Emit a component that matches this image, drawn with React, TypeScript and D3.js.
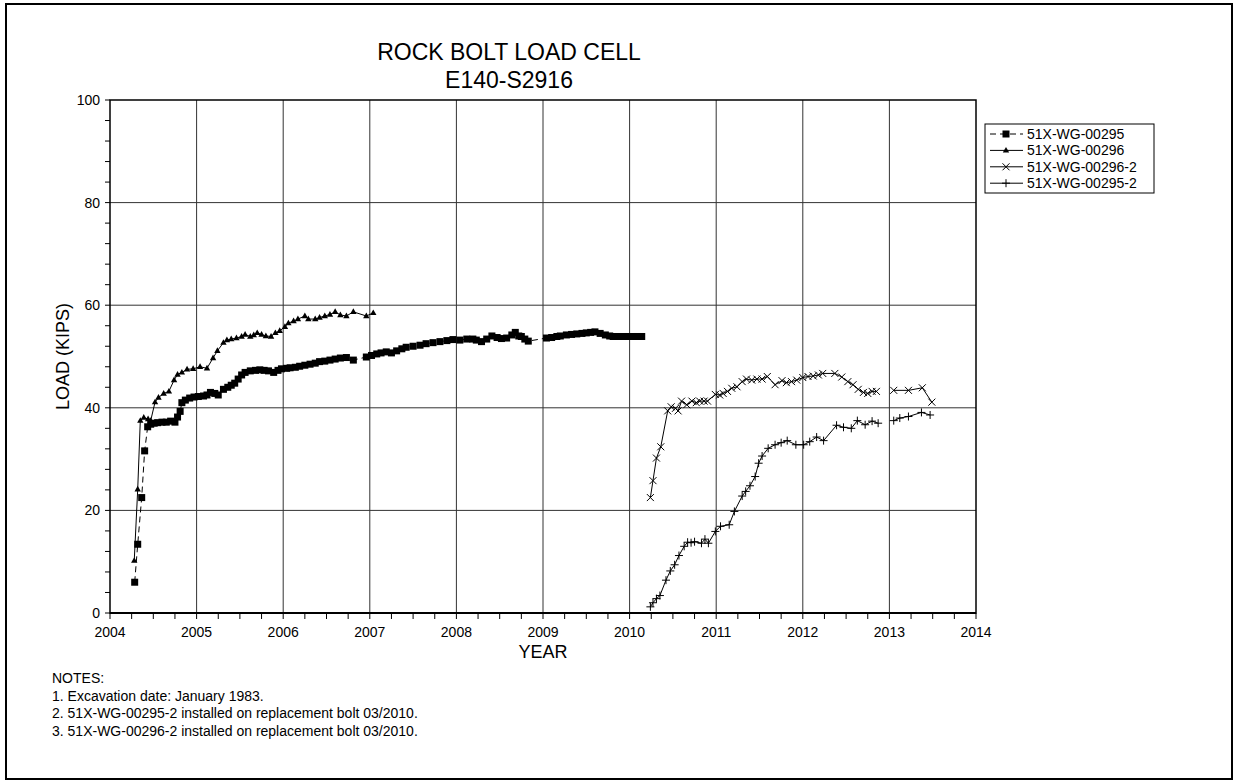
import * as d3 from 'd3';

type Pt = [number, number] | null;

// 51X-WG-00295 (dashed, squares)
const s295: Pt[] = [
  [2004.285, 6.0], [2004.32, 13.4], [2004.366, 22.5], [2004.4, 31.6], [2004.435, 36.3],
  [2004.47, 36.8], [2004.51, 37.0], [2004.55, 37.1], [2004.6, 37.2], [2004.65, 37.2],
  [2004.7, 37.4], [2004.75, 37.2], [2004.78, 38.2], [2004.81, 39.3], [2004.83, 41.0],
  [2004.87, 41.5], [2004.92, 41.9], [2004.97, 42.1], [2005.02, 42.2], [2005.08, 42.3],
  [2005.12, 42.5], [2005.16, 43.0], [2005.21, 42.8], [2005.25, 42.5], [2005.31, 43.6],
  [2005.36, 44.0], [2005.4, 44.4], [2005.44, 44.8], [2005.48, 45.6], [2005.52, 46.4],
  [2005.56, 46.9], [2005.62, 47.2], [2005.68, 47.3], [2005.73, 47.4], [2005.78, 47.3],
  [2005.83, 47.2], [2005.89, 46.9], [2005.94, 47.3], [2005.98, 47.6], [2006.04, 47.7],
  [2006.08, 47.8], [2006.14, 47.9], [2006.19, 48.1], [2006.25, 48.3], [2006.31, 48.5],
  [2006.37, 48.7], [2006.42, 49.0], [2006.48, 49.1], [2006.54, 49.3], [2006.6, 49.5],
  [2006.66, 49.7], [2006.73, 49.8], [2006.81, 49.3], [2006.96, 49.9], [2007.02, 50.2],
  [2007.08, 50.5], [2007.13, 50.7], [2007.19, 50.9], [2007.25, 50.7], [2007.31, 51.1],
  [2007.37, 51.5], [2007.42, 51.8], [2007.5, 52.0], [2007.58, 52.2], [2007.65, 52.5],
  [2007.73, 52.7], [2007.81, 52.9], [2007.89, 53.1], [2007.96, 53.3], [2008.04, 53.2],
  [2008.12, 53.4], [2008.19, 53.4], [2008.23, 53.2], [2008.29, 52.9], [2008.35, 53.4],
  [2008.41, 54.0], [2008.47, 53.7], [2008.52, 53.5], [2008.58, 53.6], [2008.64, 54.2],
  [2008.68, 54.7], [2008.72, 54.0], [2008.75, 53.9], [2008.79, 53.4], [2008.83, 53.0],
  [2009.04, 53.6], [2009.1, 53.7], [2009.16, 53.9], [2009.2, 54.0], [2009.27, 54.2],
  [2009.33, 54.3], [2009.39, 54.4], [2009.45, 54.5], [2009.5, 54.6], [2009.55, 54.7],
  [2009.6, 54.8], [2009.66, 54.5], [2009.72, 54.2], [2009.77, 54.0], [2009.81, 53.9],
  [2009.87, 53.9], [2009.93, 53.9], [2009.98, 53.9], [2010.04, 53.9], [2010.09, 53.9],
  [2010.14, 53.9],
];

// 51X-WG-00296 (solid, triangles)
const s296: Pt[] = [
  [2004.28, 10.2], [2004.32, 24.1], [2004.35, 37.5], [2004.39, 38.1], [2004.44, 37.8],
  [2004.47, 37.5], [2004.52, 41.1], [2004.56, 42.0], [2004.62, 42.8], [2004.68, 43.2],
  [2004.74, 45.4], [2004.78, 46.5], [2004.83, 46.9], [2004.89, 47.5], [2004.96, 47.6],
  [2005.04, 48.0], [2005.12, 47.7], [2005.19, 49.7], [2005.24, 51.1], [2005.31, 52.7],
  [2005.35, 53.2], [2005.4, 53.4], [2005.46, 53.6], [2005.52, 53.9], [2005.56, 54.3],
  [2005.62, 53.9], [2005.66, 54.2], [2005.7, 54.6], [2005.75, 54.3], [2005.8, 54.0],
  [2005.86, 53.9], [2005.91, 54.6], [2005.96, 55.0], [2006.02, 55.8], [2006.06, 56.5],
  [2006.12, 56.9], [2006.17, 57.3], [2006.25, 57.9], [2006.29, 57.3], [2006.37, 57.3],
  [2006.42, 57.6], [2006.48, 57.9], [2006.54, 58.2], [2006.6, 58.7], [2006.66, 58.1],
  [2006.73, 57.9], [2006.81, 58.7], [2006.96, 57.9], [2007.04, 58.5],
];

// 51X-WG-00296-2 (solid, x marks), null = gap in record
const s296b: Pt[] = [
  [2010.24, 22.5], [2010.27, 25.8], [2010.31, 30.2], [2010.36, 32.4], [2010.44, 39.4],
  [2010.48, 40.2], [2010.53, 39.9], [2010.56, 39.4], [2010.6, 41.3], [2010.66, 40.6],
  [2010.72, 41.3], [2010.77, 41.0], [2010.81, 41.3], [2010.86, 41.3], [2010.9, 41.3],
  [2010.99, 42.6], [2011.04, 42.5], [2011.08, 42.8], [2011.13, 43.2], [2011.18, 43.8],
  [2011.24, 44.1], [2011.3, 45.1], [2011.35, 45.6], [2011.41, 45.4], [2011.47, 45.6],
  [2011.53, 45.6], [2011.59, 46.1], [2011.68, 44.5], [2011.76, 45.3], [2011.81, 44.9],
  [2011.87, 45.1], [2011.93, 45.4], [2012.0, 45.9], [2012.06, 46.1], [2012.12, 46.2],
  [2012.18, 46.4], [2012.23, 46.7], [2012.37, 46.7], [2012.45, 46.0], [2012.52, 45.1],
  [2012.58, 44.5], [2012.64, 43.6], [2012.7, 43.0], [2012.75, 42.8], [2012.8, 43.2],
  [2012.85, 43.2], null,
  [2013.05, 43.4], [2013.22, 43.4], [2013.38, 43.9], [2013.49, 41.1],
];

// 51X-WG-00295-2 (solid, plus marks)
const s295b: Pt[] = [
  [2010.24, 1.2], [2010.27, 2.0], [2010.31, 2.8], [2010.35, 3.4], [2010.42, 6.4],
  [2010.47, 8.2], [2010.52, 9.4], [2010.57, 11.2], [2010.63, 13.0], [2010.67, 13.8],
  [2010.71, 13.7], [2010.75, 13.9], [2010.83, 13.6], [2010.87, 14.4], [2010.91, 13.6],
  [2010.99, 15.9], [2011.05, 16.9], [2011.15, 17.2], [2011.21, 19.8], [2011.3, 22.8],
  [2011.34, 23.7], [2011.39, 24.8], [2011.45, 26.6], [2011.49, 29.2], [2011.53, 30.6],
  [2011.6, 32.1], [2011.68, 32.8], [2011.75, 33.2], [2011.82, 33.6], [2011.92, 32.8],
  [2012.01, 32.8], [2012.08, 33.4], [2012.16, 34.3], [2012.24, 33.6], [2012.39, 36.6],
  [2012.47, 36.2], [2012.56, 36.0], [2012.63, 37.5], [2012.72, 36.7], [2012.8, 37.4],
  [2012.87, 37.0], null,
  [2013.05, 37.5], [2013.12, 38.0], [2013.22, 38.3], [2013.37, 39.1], [2013.47, 38.6],
];

const seriesNames = ['51X-WG-00295', '51X-WG-00296', '51X-WG-00296-2', '51X-WG-00295-2'];
const markerKinds = ['square', 'triangle', 'x', 'plus'];
const years = d3.range(2004, 2015);
const loadTicks = [0, 20, 40, 60, 80, 100];
const notes = [
  'NOTES:',
  '1. Excavation date: January 1983.',
  '2. 51X-WG-00295-2 installed on replacement bolt 03/2010.',
  '3. 51X-WG-00296-2 installed on replacement bolt 03/2010.',
];

const W = 1238;
const H = 783;
const FONT = 'Arial, "Liberation Sans", Helvetica, sans-serif';
const plot = { left: 110, right: 976, top: 100, bottom: 613 };

const x = d3.scaleLinear().domain([2004, 2014]).range([plot.left, plot.right]);
const y = d3.scaleLinear().domain([0, 100]).range([plot.bottom, plot.top]);

function Marker({ kind, cx, cy }: { kind: string; cx: number; cy: number }) {
  if (kind === 'square') return <rect x={cx - 3.5} y={cy - 3.5} width={7} height={7} fill="#000" />;
  if (kind === 'triangle') {
    return <path d={`M${cx},${cy - 3.5}L${cx + 3.2},${cy + 2.2}L${cx - 3.2},${cy + 2.2}Z`} fill="#000" />;
  }
  if (kind === 'x') {
    const r = 3.5;
    return <path d={`M${cx - r},${cy - r}L${cx + r},${cy + r}M${cx - r},${cy + r}L${cx + r},${cy - r}`} stroke="#000" strokeWidth={1} />;
  }
  const r = 4;
  return <path d={`M${cx - r},${cy}L${cx + r},${cy}M${cx},${cy - r}L${cx},${cy + r}`} stroke="#000" strokeWidth={1} />;
}

export default function App() {
  const all = [s295, s296, s296b, s295b];
  const line = d3.line<Pt>()
    .defined(d => d !== null)
    .x(d => x((d as [number, number])[0]))
    .y(d => y((d as [number, number])[1]));

  const minorY = d3.range(0, 101, 4);
  const minorX = d3.range(2004, 2014.01, 0.25);

  return (
    <svg width={W} height={H} style={{ position: 'absolute', left: 0, top: 0 }} fontFamily={FONT}>
      <rect x={0} y={0} width={W} height={H} fill="#fff" />
      <rect x={6} y={4} width={1226} height={775} fill="none" stroke="#000" strokeWidth={2} />

      <text x={509} y={60} textAnchor="middle" fontSize={23}>ROCK BOLT LOAD CELL</text>
      <text x={509} y={88} textAnchor="middle" fontSize={23}>E140-S2916</text>

      {/* grid */}
      {years.slice(1, -1).map(yr => (
        <line key={'gx' + yr} x1={x(yr)} x2={x(yr)} y1={plot.top} y2={plot.bottom} stroke="#333" strokeWidth={1} />
      ))}
      {loadTicks.slice(1, -1).map(v => (
        <line key={'gy' + v} x1={plot.left} x2={plot.right} y1={y(v)} y2={y(v)} stroke="#333" strokeWidth={1} />
      ))}
      <rect x={plot.left} y={plot.top} width={plot.right - plot.left} height={plot.bottom - plot.top} fill="none" stroke="#000" strokeWidth={1.5} />
      <line x1={plot.left} x2={plot.right} y1={plot.bottom} y2={plot.bottom} stroke="#000" strokeWidth={2} />

      {/* ticks */}
      {minorY.map(v => (
        <line key={'ty' + v} x1={plot.left - 5} x2={plot.left} y1={y(v)} y2={y(v)} stroke="#000" />
      ))}
      {minorX.map(v => (
        <line key={'tx' + v} x1={x(v)} x2={x(v)} y1={plot.bottom} y2={plot.bottom + 6} stroke="#000" />
      ))}
      {loadTicks.map(v => (
        <text key={'ly' + v} x={plot.left - 10} y={y(v) + 5} textAnchor="end" fontSize={14}>{v}</text>
      ))}
      {years.map(yr => (
        <text key={'lx' + yr} x={x(yr)} y={plot.bottom + 24} textAnchor="middle" fontSize={14}>{yr}</text>
      ))}
      <text x={(plot.left + plot.right) / 2} y={plot.bottom + 45} textAnchor="middle" fontSize={18}>YEAR</text>
      <text transform={`translate(69,${(plot.top + plot.bottom) / 2}) rotate(-90)`} textAnchor="middle" fontSize={18}>LOAD (KIPS)</text>

      {/* series */}
      {all.map((data, i) => (
        <g key={'s' + i}>
          <path d={line(data) ?? ''} fill="none" stroke="#000" strokeWidth={1} strokeDasharray={i === 0 ? '6,4' : undefined} />
          {data.filter(d => d !== null).map((d, j) => (
            <Marker key={j} kind={markerKinds[i]} cx={x((d as [number, number])[0])} cy={y((d as [number, number])[1])} />
          ))}
        </g>
      ))}

      {/* legend */}
      <rect x={985} y={124} width={169} height={69} fill="#fff" stroke="#000" strokeWidth={1} />
      {seriesNames.map((name, i) => {
        const ly = 134 + i * 16.4;
        return (
          <g key={'lg' + i}>
            <line x1={990} x2={1023} y1={ly} y2={ly} stroke="#000" strokeDasharray={i === 0 ? '6,4' : undefined} />
            <Marker kind={markerKinds[i]} cx={1006} cy={ly} />
            <text x={1027} y={ly + 5} fontSize={14}>{name}</text>
          </g>
        );
      })}

      {/* notes */}
      {notes.map((t, i) => (
        <text key={'n' + i} x={52} y={683 + i * 17.6} fontSize={14}>{t}</text>
      ))}
    </svg>
  );
}
